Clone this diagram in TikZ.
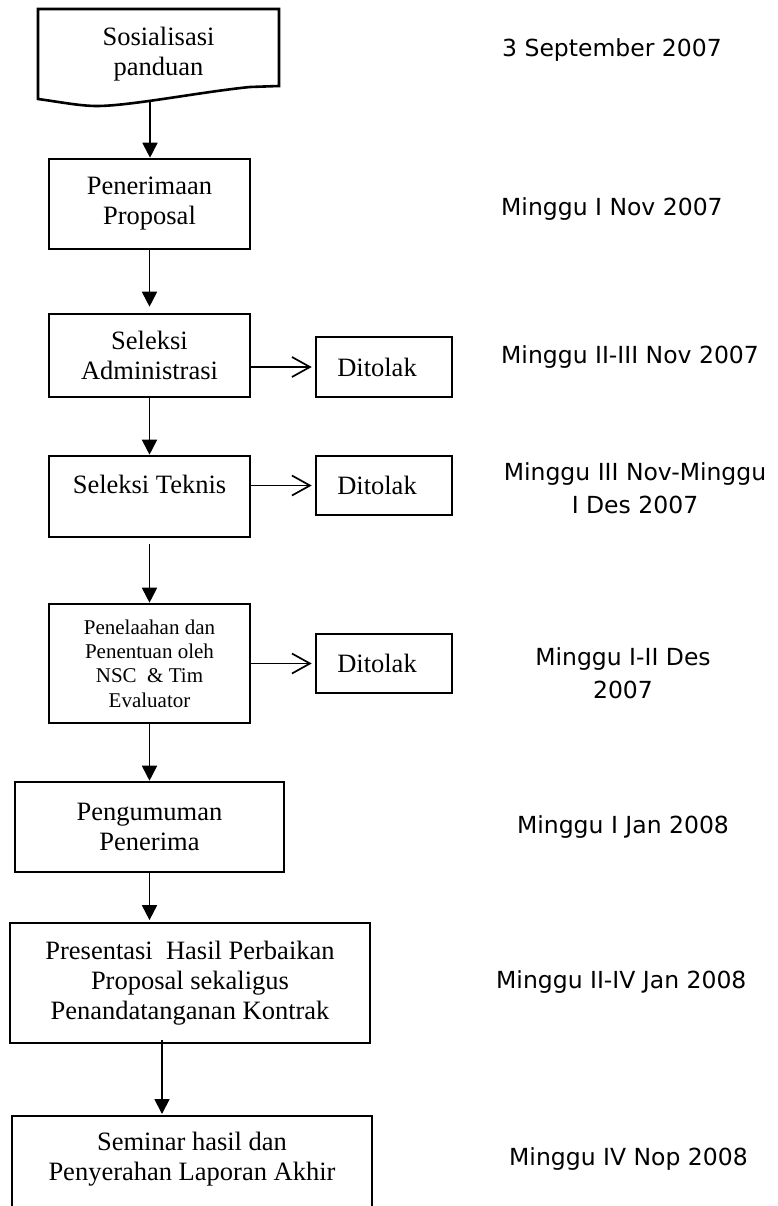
\documentclass[tikz,border=0pt]{standalone}
\usepackage{fontspec}
\setmainfont{Liberation Serif}
\newfontfamily\sansf{DejaVu Sans}
\usetikzlibrary{arrows.meta}
\begin{document}
\begin{tikzpicture}[x=1pt,y=-1pt,
  box/.style={draw, line width=2.6pt, inner sep=0pt, font=\fontsize{26.5}{30}\selectfont},
  mbox/.style={box, align=center},
  thinbox/.style={mbox, line width=1.7pt},
  serif/.style={inner sep=0pt, align=center, font=\fontsize{26.5}{30}\selectfont},
  rt/.style={inner sep=0pt, align=center, font=\sansf\fontsize{23.5}{33}\selectfont},
  arr/.style={line width=1.8pt, -{Triangle[length=15pt,width=15pt]}},
  rej/.style={line width=1.7pt, -{Straight Barb[length=18pt,width=20pt]}, shorten >=3pt},
]
\useasboundingbox (0,0) rectangle (778,1206);

% document shape
\draw[line width=2.6pt, line join=miter] (38,9) -- (279,9) -- (279,86) -- (250,87)
  .. controls (200,92) and (130,106) .. (97,106)
  .. controls (80,106) and (60,102) .. (38,99) -- cycle;
\node[serif] (sos) at (158.5,53.8) {Sosialisasi\\panduan};
\coordinate (sosb) at (150,101);

\node[mbox, minimum width=201pt, minimum height=90pt] (pen) at (149.5,204) {Penerimaan\\Proposal};
\node[mbox, minimum width=201pt, minimum height=83pt] (adm) at (149.5,355.5) {Seleksi\\Administrasi};
\node[box, minimum width=201pt, minimum height=81pt, text height=18pt, text depth=25pt] (tek) at (149.5,496.5) {Seleksi Teknis};
\node[mbox, font=\fontsize{21}{24.3}\selectfont, minimum width=201pt, minimum height=119pt] (pnl) at (149.5,663.5) {Penelaahan dan\\Penentuan oleh\\NSC\ \ \& Tim\\Evaluator};
\node[mbox, minimum width=269pt, minimum height=90pt] (pgm) at (149.5,827) {Pengumuman\\Penerima};
\node[thinbox, minimum width=360pt, minimum height=120pt] (prs) at (190,983) {Presentasi\ \ Hasil Perbaikan\\Proposal sekaligus\\Penandatanganan Kontrak};
\node[thinbox, minimum width=360pt, minimum height=130pt, anchor=north] (sem) at (192,1115) {};
\node[serif] (semt) at (192,1158.8) {Seminar hasil dan\\Penyerahan Laporan Akhir};

\node[box, minimum width=136pt, minimum height=60pt] (d1) at (384,367) {Ditolak\hspace*{14pt}};
\node[box, minimum width=136pt, minimum height=59pt] (d2) at (384,485.5) {Ditolak\hspace*{14pt}};
\node[box, minimum width=136pt, minimum height=59pt] (d3) at (384,663.5) {Ditolak\hspace*{14pt}};

% flow arrows
\draw[arr] (sosb) -- (sosb |- pen.north);
\draw[arr, shorten >=6pt] (pen.south) -- (adm.north);
\draw[arr] (adm.south) -- (tek.north);
\draw[arr, shorten <=6pt] (tek.south) -- (pnl.north);
\draw[arr] (pnl.south) -- (pgm.north);
\draw[arr, shorten >=2pt] (pgm.south) -- (pgm.south |- prs.north);
\draw[arr, shorten >=1pt] ([xshift=-28pt,yshift=4pt]prs.south) -- ([xshift=-30pt]sem.north);

% rejection arrows
\draw[rej] (adm.east |- d1.west) -- (d1.west);
\draw[rej] (tek.east |- d2.west) -- (d2.west);
\draw[rej] (pnl.east |- d3.west) -- (d3.west);

% schedule
\node[rt, anchor=base west] (t1) at (502,57) {3 September 2007};
\node[rt, anchor=base west] (t2) at (501,215) {Minggu I Nov 2007};
\node[rt, anchor=base west] (t3) at (501,363) {Minggu II-III Nov 2007};
\node[rt, anchor=north] (t4) at (635,460) {\rule{0pt}{20pt}Minggu III Nov-Minggu\\I Des 2007};
\node[rt, anchor=north] (t5) at (623,645) {\rule{0pt}{20pt}Minggu I-II Des\\2007};
\node[rt, anchor=base] (t6) at (623,833) {Minggu I Jan 2008};
\node[rt, anchor=base west] (t7) at (496,988) {Minggu II-IV Jan 2008};
\node[rt, anchor=base west] (t8) at (509,1165) {Minggu IV Nop 2008};
\end{tikzpicture}
\end{document}
